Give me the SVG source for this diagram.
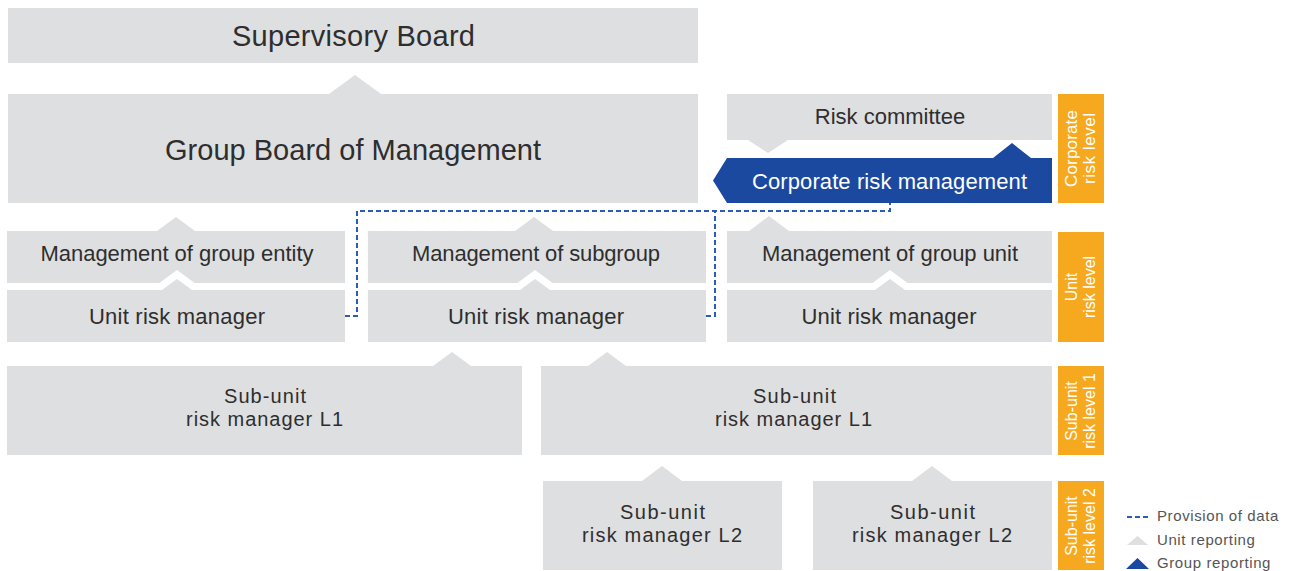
<svg xmlns="http://www.w3.org/2000/svg" width="1289" height="571" viewBox="0 0 1289 571">
<style>
.box{fill:#dedfe1}
.tri{fill:#dedfe1}
.blue{fill:#1b49a0}
.org{fill:#f6a81e}
.wht{fill:#ffffff}
text{font-family:"Liberation Sans",Arial,sans-serif}
.lbl{font-size:22px;fill:#2e2e2e;text-anchor:middle}
.sub{font-size:20px;fill:#2e2e2e;text-anchor:middle}
.big{font-size:29px;fill:#2e2e2e;text-anchor:middle}
.wlbl{font-size:22px;fill:#ffffff;text-anchor:middle}
.olbl{font-size:16px;fill:#ffffff;text-anchor:middle}
.leg{font-size:15px;fill:#555555;letter-spacing:0.6px}
.dash{fill:none;stroke:#2a5cb8;stroke-width:2;stroke-dasharray:5 3}
</style>
<rect width="1289" height="571" fill="#ffffff"/>

<g id="supervisory-board">
<rect class="box" x="8" y="8" width="690" height="55"/>
<text class="big" x="353.5" y="46" textLength="243" lengthAdjust="spacing">Supervisory Board</text>
</g>

<g id="group-board">
<rect class="box" x="8" y="94" width="690" height="109"/>
<polygon class="tri" points="329,94 355,75 381,94"/>
<text class="big" x="353" y="160" textLength="376" lengthAdjust="spacing">Group Board of Management</text>
</g>

<g id="risk-committee">
<rect class="box" x="727" y="94" width="325" height="46"/>
<polygon class="tri" points="748,140 768,153 788,140"/>
<text class="lbl" x="890" y="124">Risk committee</text>
</g>

<g id="corporate-risk-management">
<polygon class="blue" points="727,158 993,158 1012,143 1031,158 1052,158 1052,203 727,203 713,180.5"/>
<text class="wlbl" x="889.5" y="189" textLength="275" lengthAdjust="spacing">Corporate risk management</text>
</g>

<g id="mgmt-group-entity">
<rect class="box" x="7" y="231" width="338" height="52"/>
<polygon class="tri" points="157,231 176,217 195,231"/>
<text class="lbl" x="177" y="261" textLength="273" lengthAdjust="spacing">Management of group entity</text>
</g>
<g id="urm-left">
<polygon class="wht" points="150,290 177,270 204,290"/>
<polygon class="tri" points="162,290 177,279 192,290"/>
<rect class="box" x="7" y="290" width="338" height="52"/>
<text class="lbl" x="177" y="324" textLength="176" lengthAdjust="spacing">Unit risk manager</text>
</g>

<g id="mgmt-subgroup">
<rect class="box" x="368" y="231" width="338" height="52"/>
<polygon class="tri" points="515,231 534,217 553,231"/>
<text class="lbl" x="536" y="261" textLength="248" lengthAdjust="spacing">Management of subgroup</text>
</g>
<g id="urm-middle">
<polygon class="wht" points="508,290 535,270 562,290"/>
<polygon class="tri" points="520,290 535,279 550,290"/>
<rect class="box" x="368" y="290" width="338" height="52"/>
<text class="lbl" x="536" y="324" textLength="176" lengthAdjust="spacing">Unit risk manager</text>
</g>

<g id="mgmt-group-unit">
<rect class="box" x="727" y="231" width="325" height="52"/>
<polygon class="tri" points="749,231 769,216 789,231"/>
<text class="lbl" x="890" y="261" textLength="256" lengthAdjust="spacing">Management of group unit</text>
</g>
<g id="urm-right">
<polygon class="wht" points="863,290 890,270 917,290"/>
<polygon class="tri" points="875,290 890,279 905,290"/>
<rect class="box" x="727" y="290" width="325" height="52"/>
<text class="lbl" x="889" y="324" textLength="175" lengthAdjust="spacing">Unit risk manager</text>
</g>

<g id="subunit-l1-left">
<rect class="box" x="7" y="366" width="515" height="89"/>
<polygon class="tri" points="433,366 452,352 471,366"/>
<text class="sub" x="265" y="403" textLength="82" lengthAdjust="spacing">Sub-unit</text>
<text class="sub" x="264.5" y="426" textLength="157" lengthAdjust="spacing">risk manager L1</text>
</g>

<g id="subunit-l1-right">
<rect class="box" x="541" y="366" width="511" height="89"/>
<polygon class="tri" points="588,366 607,352 626,366"/>
<text class="sub" x="794.5" y="403" textLength="83" lengthAdjust="spacing">Sub-unit</text>
<text class="sub" x="793.5" y="426" textLength="157" lengthAdjust="spacing">risk manager L1</text>
</g>

<g id="subunit-l2-left">
<rect class="box" x="543" y="481" width="239" height="89"/>
<polygon class="tri" points="642,481 662,466 682,481"/>
<text class="sub" x="662.5" y="519" textLength="85" lengthAdjust="spacing">Sub-unit</text>
<text class="sub" x="662" y="542" textLength="160" lengthAdjust="spacing">risk manager L2</text>
</g>

<g id="subunit-l2-right">
<rect class="box" x="813" y="481" width="239" height="89"/>
<polygon class="tri" points="912,481 932,466 952,481"/>
<text class="sub" x="932.5" y="519" textLength="85" lengthAdjust="spacing">Sub-unit</text>
<text class="sub" x="932" y="542" textLength="160" lengthAdjust="spacing">risk manager L2</text>
</g>

<g id="level-corporate">
<rect class="org" x="1058" y="94" width="46" height="109"/>
<g transform="translate(1081,148.5) rotate(-90)">
<text class="olbl" x="0" y="-4" style="font-size:17px" textLength="77" lengthAdjust="spacing">Corporate</text>
<text class="olbl" x="0" y="14" style="font-size:17px" textLength="71" lengthAdjust="spacing">risk level</text>
</g>
</g>
<g id="level-unit">
<rect class="org" x="1058" y="232" width="46" height="110"/>
<g transform="translate(1081,287) rotate(-90)">
<text class="olbl" x="0" y="-4">Unit</text>
<text class="olbl" x="0" y="14">risk level</text>
</g>
</g>
<g id="level-subunit-1">
<rect class="org" x="1058" y="366" width="46" height="89"/>
<g transform="translate(1081,411) rotate(-90)">
<text class="olbl" x="0" y="-4">Sub-unit</text>
<text class="olbl" x="0" y="14">risk level 1</text>
</g>
</g>
<g id="level-subunit-2">
<rect class="org" x="1058" y="481" width="46" height="89"/>
<g transform="translate(1081,526) rotate(-90)">
<text class="olbl" x="0" y="-4">Sub-unit</text>
<text class="olbl" x="0" y="14">risk level 2</text>
</g>
</g>

<g id="connectors">
<path class="dash" d="M345,316 H357 V211 H890 V203"/>
<path class="dash" d="M706,316 H715 V211"/>
</g>

<g id="legend">
<line x1="1127" y1="517" x2="1151" y2="517" class="dash"/>
<text class="leg" x="1157" y="521">Provision of data</text>
<polygon class="tri" points="1127,545 1137.5,536 1148,545"/>
<text class="leg" x="1157" y="545">Unit reporting</text>
<polygon class="blue" points="1126,569 1137.5,558 1149,569"/>
<text class="leg" x="1157" y="568">Group reporting</text>
</g>
</svg>
